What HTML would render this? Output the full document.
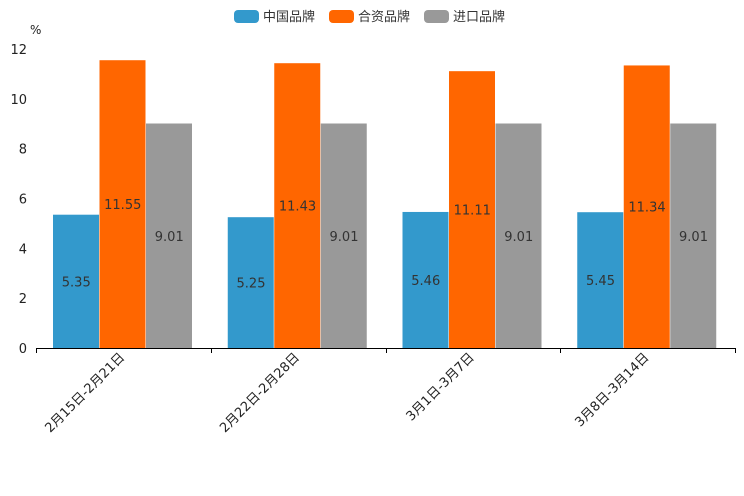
<!DOCTYPE html>
<html><head><meta charset="utf-8"><style>
body{margin:0;background:#fff;}
svg{display:block;font-family:"DejaVu Sans","Noto Sans CJK SC",sans-serif;}
</style></head><body>
<svg id="c" width="744" height="496">
<g>
<g><rect x="234" y="10" width="25" height="13" rx="4" fill="#3399cc"/><text x="263" y="21" font-size="13" fill="#333">中国品牌</text></g>
<g><rect x="329" y="10" width="25" height="13" rx="4" fill="#ff6600"/><text x="358" y="21" font-size="13" fill="#333">合资品牌</text></g>
<g><rect x="424" y="10" width="25" height="13" rx="4" fill="#999999"/><text x="453" y="21" font-size="13" fill="#333">进口品牌</text></g>
</g>
<text x="30" y="34" font-size="12" fill="#222">%</text>
</svg>
<script>
const categories=["2月15日-2月21日","2月22日-2月28日","3月1日-3月7日","3月8日-3月14日"];
const china=[5.35,5.25,5.46,5.45];
const jv=[11.55,11.43,11.11,11.34];
const imported=[9.01,9.01,9.01,9.01];
const yTicks=[0,2,4,6,8,10,12];
const svg=document.getElementById('c');
const NS='http://www.w3.org/2000/svg';
const x0=36,x1=735,base=348,yTop=49,ymax=12;
const y=v=>base-(base-yTop)*v/ymax;
const step=(x1-x0)/categories.length;
function mk(t,a,txt){const e=document.createElementNS(NS,t);for(const k in a)e.setAttribute(k,a[k]);if(txt!=null)e.textContent=txt;svg.appendChild(e);return e;}
yTicks.forEach(v=>{const e=mk('text',{x:27,y:y(v)+5,'text-anchor':'end','font-size':13,fill:'#222'},v);

});
const series=[[china,'#3399cc','china'],[jv,'#ff6600','jv'],[imported,'#999999','import']];
const bw=46.5,off=17;
categories.forEach((c,i)=>{
 const gx=x0+step*i;
 series.forEach((s,j)=>{
  const v=s[0][i],bx=gx+off+j*bw;
  const r=mk('rect',{x:bx,y:y(v),width:bw-0.5,height:base-y(v),fill:s[1]});
  
  
  const t=mk('text',{x:bx+bw/2,y:(y(v)+base)/2+5,'text-anchor':'middle','font-size':13,fill:'#333'},v.toFixed(2));
  
  
 });
 const cx=gx+step/2;
 const l=mk('text',{x:cx+2,y:358,'text-anchor':'end','font-size':13,fill:'#222',transform:`rotate(-45 ${cx+2} 358)`},c);
 
 
});
const ax=mk('line',{x1:x0,y1:base+0.5,x2:x1,y2:base+0.5,stroke:'#000','stroke-width':1});


for(let i=0;i<=categories.length;i++){const tx=Math.round(x0+step*i)+0.5;
 const tk=mk('line',{x1:tx,y1:base,x2:tx,y2:base+5,stroke:'#000'});
 
 }
</script>
</body></html>
